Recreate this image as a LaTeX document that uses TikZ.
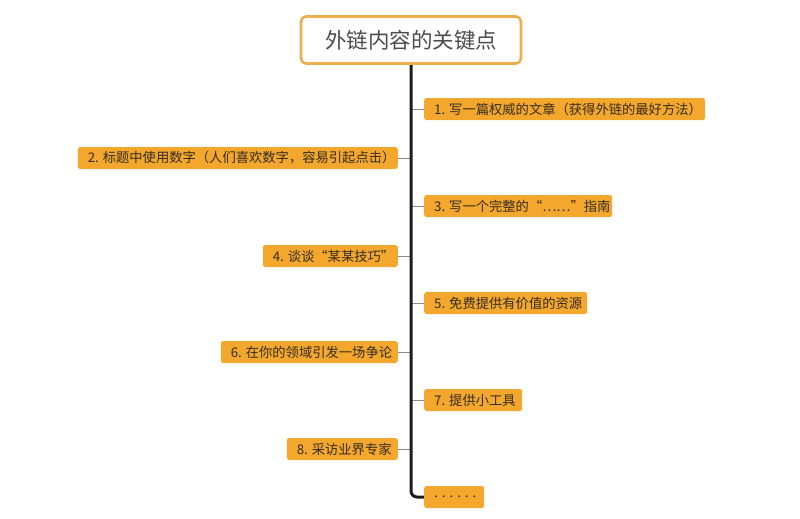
\documentclass[tikz,border=0pt]{standalone}
\usepackage{fontspec}
\usetikzlibrary{backgrounds}
\setmainfont{Noto Sans CJK SC}
\definecolor{boxfill}{HTML}{F3A72C}
\definecolor{titleborder}{HTML}{EBB04E}
\definecolor{txt}{HTML}{352D22}
\definecolor{titletxt}{HTML}{4C4C4C}
\definecolor{branchc}{HTML}{8A8A8A}
\definecolor{spinec}{HTML}{1C1C1C}
\newcommand{\lbl}[2]{\makebox[#1pt][l]{#2}}
\begin{document}
\begin{tikzpicture}[x=1pt,y=-1pt,
  titlebox/.style={draw=titleborder, line width=2.6pt, fill=white, rounded corners=5pt,
    minimum width=220pt, minimum height=47pt, inner sep=0pt, text=titletxt,
    font=\fontsize{21.5}{24}\selectfont},
  itembox/.style={fill=boxfill, rounded corners=2.5pt, minimum height=22pt,
    inner xsep=10pt, inner ysep=0pt, text=txt, font=\fontsize{13.3}{15}\selectfont},
  branch/.style={draw=branchc, line width=0.8pt},
  spine/.style={draw=spinec, line width=3pt, rounded corners=6pt}
]
\useasboundingbox (0,0) rectangle (800,519);

\node[titlebox] (t) at (411,40) {外链内容的关键点};

\node[itembox, anchor=west] (b1) at (424,109) {\lbl{261}{1. 写一篇权威的文章（获得外链的最好方法）}};
\node[itembox, anchor=east] (b2) at (398,158) {\lbl{300}{2. 标题中使用数字（人们喜欢数字，容易引起点击）}};
\node[itembox, anchor=west] (b3) at (424,206) {\lbl{168}{3. 写一个完整的“……”指南}};
\node[itembox, anchor=east] (b4) at (398,256) {\lbl{115}{4. 谈谈“某某技巧”}};
\node[itembox, anchor=west] (b5) at (424,303) {\lbl{143}{5. 免费提供有价值的资源}};
\node[itembox, anchor=east] (b6) at (398,352) {\lbl{157}{6. 在你的领域引发一场争论}};
\node[itembox, anchor=west] (b7) at (424,400) {\lbl{78}{7. 提供小工具}};
\node[itembox, anchor=east] (b8) at (398,449) {\lbl{91}{8. 采访业界专家}};
\node[itembox, anchor=west] (b9) at (424,497) {\lbl{40}{\addfontfeature{LetterSpace=30}......}};

\coordinate (j1) at (411,109);
\coordinate (j2) at (411,158);
\coordinate (j3) at (411,206);
\coordinate (j4) at (411,256);
\coordinate (j5) at (411,303);
\coordinate (j6) at (411,352);
\coordinate (j7) at (411,400);
\coordinate (j8) at (411,449);

\begin{scope}[on background layer]
\draw[branch] (j1) -- (b1.west);
\draw[branch] (j2) -- (b2.east);
\draw[branch] (j3) -- (b3.west);
\draw[branch] (j4) -- (b4.east);
\draw[branch] (j5) -- (b5.west);
\draw[branch] (j6) -- (b6.east);
\draw[branch] (j7) -- (b7.west);
\draw[branch] (j8) -- (b8.east);
\draw[spine] (t.south) |- (b9.west);
\end{scope}
\end{tikzpicture}
\end{document}
